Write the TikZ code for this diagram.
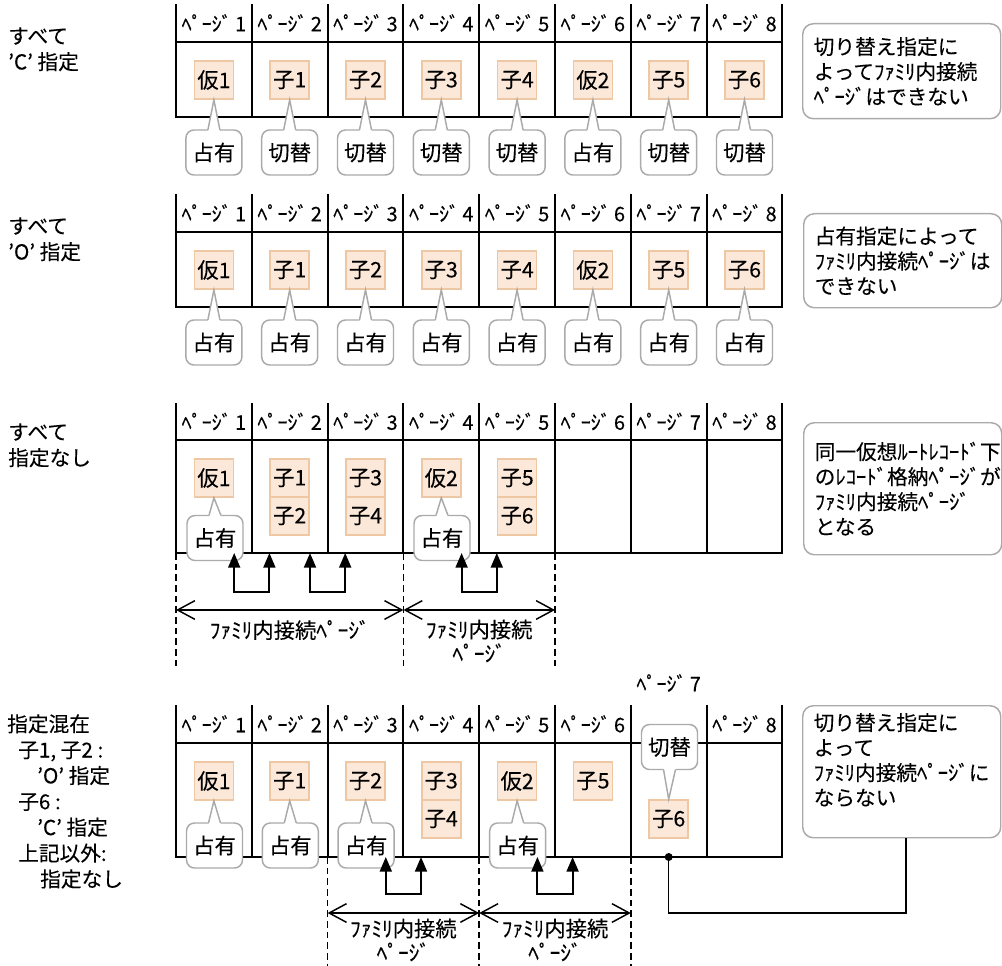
\documentclass[tikz,border=0pt]{standalone}
\usepackage{fontspec}
\setmainfont{Noto Sans CJK JP}[FakeBold=0.15]
\usetikzlibrary{arrows.meta,calc}
\definecolor{boxfill}{RGB}{251,232,216}
\definecolor{boxdraw}{RGB}{238,200,165}
\definecolor{callgray}{RGB}{170,170,170}
\newcommand\fsz{\fontsize{16pt}{19pt}\selectfont}
\tikzset{
  gridline/.style={line width=1.4pt},
  recbox/.style={draw=boxdraw, fill=boxfill, line width=1.2pt, minimum width=29.25pt, minimum height=28.5pt, inner sep=0pt, font=\fsz},
  callbox/.style={draw=callgray, fill=white, line width=1.1pt, rounded corners=6pt, minimum width=42pt, minimum height=33.75pt, inner sep=0pt, font=\fsz},
  notebox/.style={draw=callgray, fill=white, line width=1.1pt, rounded corners=8pt, anchor=north west, minimum width=148.5pt, inner xsep=8.25pt, text width=132pt, align=left, font=\fontsize{15.5pt}{18.75pt}\selectfont},
  hdr/.style={font=\fontsize{15pt}{16pt}\selectfont, inner sep=0pt},
  sidelabel/.style={font=\fontsize{15.5pt}{19.4pt}\selectfont, align=left, anchor=north west, inner sep=0pt},
  dimlabel/.style={font=\fontsize{16pt}{18pt}\selectfont, align=center, inner sep=0pt},
  dimline/.style={line width=1.1pt, {Straight Barb[length=13pt,width=14pt]}-{Straight Barb[length=13pt,width=14pt]}},
  dashline/.style={line width=1.1pt, dash pattern=on 5pt off 3pt},
  linkarrow/.style={line width=1.4pt, {Triangle[length=11pt,width=9pt]}-{Triangle[length=11pt,width=9pt]}},
  ptr/.style={draw=callgray, line width=1.1pt, line join=miter},
  conn/.style={line width=1.1pt},
}
% callout whose pointer leaves the top edge
\newcommand\mycallup[4]{%
  \node[callbox] (#1) at (#2) {#3};
  \fill[white] ($(#1.north)+(-6,0.7)$) -- (#4) -- ($(#1.north)+(6,0.7)$) -- ($(#1.north)+(6,2.6)$) -- ($(#1.north)+(-6,2.6)$) -- cycle;
  \draw[ptr] ($(#1.north)+(-6,0.7)$) -- (#4) -- ($(#1.north)+(6,0.7)$);
}
% callout whose pointer leaves the bottom edge
\newcommand\mycalldown[4]{%
  \node[callbox] (#1) at (#2) {#3};
  \fill[white] ($(#1.south)+(-6,-0.7)$) -- (#4) -- ($(#1.south)+(6,-0.7)$) -- ($(#1.south)+(6,-2.6)$) -- ($(#1.south)+(-6,-2.6)$) -- cycle;
  \draw[ptr] ($(#1.south)+(-6,-0.7)$) -- (#4) -- ($(#1.south)+(6,-0.7)$);
}
\newcommand\mypagegrid[3]{% top, header, bottom
  \draw[gridline] (176,#1) -- (176,#3) -- (782.4,#3) -- (782.4,#1);
  \foreach \k in {1,...,7} \draw[gridline] ({176+75.8*\k},#1) -- ({176+75.8*\k},#3);
  \draw[gridline] (176,#2) -- (782.4,#2);
}
\begin{document}
\begin{tikzpicture}[x=0.75pt,y=-0.75pt]
\useasboundingbox (0,0) rectangle (1002,966);
\clip (0,0) rectangle (1002,966);

% ===== Section 1 =====
\node[sidelabel] (lab1) at (8,27) {すべて\\'C' 指定};
\mypagegrid{4}{42}{117}
\foreach \k in {1,...,8} \node[hdr] (pa\k) at ({176+75.8*(\k-0.5)},23) {ﾍﾟｰｼﾞ\,\k};
\foreach \lab [count=\i] in {仮1,子1,子2,子3,子4,仮2,子5,子6}
  \node[recbox] (a\i) at ({176+75.8*(\i-0.5)},80) {\lab};
\foreach \t [count=\i] in {占有,切替,切替,切替,切替,占有,切替,切替}
  {\mycallup{ca\i}{{176+75.8*(\i-0.5)},152.5}{\t}{a\i.south}}
\node[notebox, minimum height=71.25pt] (n1) at (802,23) {切り替え指定に\\よってﾌｧﾐﾘ内接続\\ﾍﾟｰｼﾞはできない};

% ===== Section 2 =====
\node[sidelabel] (lab2) at (8,217) {すべて\\'O' 指定};
\mypagegrid{194}{232}{307}
\foreach \k in {1,...,8} \node[hdr] (pb\k) at ({176+75.8*(\k-0.5)},213) {ﾍﾟｰｼﾞ\,\k};
\foreach \lab [count=\i] in {仮1,子1,子2,子3,子4,仮2,子5,子6}
  \node[recbox] (b\i) at ({176+75.8*(\i-0.5)},270) {\lab};
\foreach \i in {1,...,8}
  {\mycallup{cb\i}{{176+75.8*(\i-0.5)},342.5}{占有}{b\i.south}}
\node[notebox, minimum height=70.5pt] (n2) at (803,213) {占有指定によって\\ﾌｧﾐﾘ内接続ﾍﾟｰｼﾞは\\できない};

% ===== Section 3 =====
\node[sidelabel] (lab3) at (8,423) {すべて\\指定なし};
\mypagegrid{403}{440}{553}
\foreach \k in {1,...,8} \node[hdr] (pc\k) at ({176+75.8*(\k-0.5)},421.5) {ﾍﾟｰｼﾞ\,\k};
\node[recbox] (c1)  at (213.9,478) {仮1};
\node[recbox] (c2a) at (289.7,478) {子1};
\node[recbox] (c2b) at (289.7,516) {子2};
\node[recbox] (c3a) at (365.5,478) {子3};
\node[recbox] (c3b) at (365.5,516) {子4};
\node[recbox] (c4)  at (441.3,478) {仮2};
\node[recbox] (c5a) at (517.1,478) {子5};
\node[recbox] (c5b) at (517.1,516) {子6};
\mycallup{cc1}{215,538}{占有}{c1.south}
\mycallup{cc4}{442,538}{占有}{c4.south}
\coordinate (bot3) at (0,553);
\draw[linkarrow] (c1.east |- bot3) -- ++(0,39) -| (c2a.west |- bot3);
\draw[linkarrow] (c2a.east |- bot3) -- ++(0,39) -| (c3a.west |- bot3);
\draw[linkarrow] (c4.east |- bot3) -- ++(0,39) -| (c5a.west |- bot3);
\coordinate (d31) at (176,553);
\coordinate (d32) at (403.4,553);
\coordinate (d33) at (555,553);
\foreach \d in {d31,d32,d33} \draw[dashline] (\d) -- ++(0,114);
\coordinate (m31) at (176,610);
\coordinate (m32) at (403.4,610);
\coordinate (m33) at (555,610);
\draw[dimline] (m31) -- (m32);
\draw[dimline] (m32) -- (m33);
\node[dimlabel] (f31) at (289.7,630) {ﾌｧﾐﾘ内接続ﾍﾟｰｼﾞ};
\node[dimlabel] (f32) at (479.2,641) {ﾌｧﾐﾘ内接続\\ﾍﾟｰｼﾞ};
\node[notebox, minimum height=99pt] (n3) at (803,422) {同一仮想ﾙｰﾄﾚｺｰﾄﾞ下\\のﾚｺｰﾄﾞ格納ﾍﾟｰｼﾞが\\ﾌｧﾐﾘ内接続ﾍﾟｰｼﾞ\\となる};

% ===== Section 4 =====
\node[sidelabel] (lab4) at (7,714) {指定混在\\\hspace*{8.25pt}子1, 子2 :\\\hspace*{22.5pt}'O' 指定\\\hspace*{8.25pt}子6 :\\\hspace*{22.5pt}'C' 指定\\\hspace*{8.25pt}上記以外:\\\hspace*{24.75pt}指定なし};
\mypagegrid{705}{743}{857}
\foreach \k in {1,...,6,8} \node[hdr] (pd\k) at ({176+75.8*(\k-0.5)},724) {ﾍﾟｰｼﾞ\,\k};
\node[hdr] (pd7) at (668.7,683) {ﾍﾟｰｼﾞ\,7};
\node[recbox] (e1)  at (213.9,781) {仮1};
\node[recbox] (e2)  at (289.7,781) {子1};
\node[recbox] (e3)  at (365.5,781) {子2};
\node[recbox] (e4a) at (441.3,781) {子3};
\node[recbox] (e4b) at (441.3,819) {子4};
\node[recbox] (e5)  at (517.1,781) {仮2};
\node[recbox] (e6)  at (592.9,781) {子5};
\node[recbox] (e7)  at (668.7,819) {子6};
\mycallup{ce1}{214.5,845.5}{占有}{e1.south}
\mycallup{ce2}{290.3,845.5}{占有}{e2.south}
\mycallup{ce3}{366.1,845.5}{占有}{e3.south}
\mycallup{ce5}{517.7,845.5}{占有}{e5.south}
\mycalldown{ce7}{669.5,747}{切替}{e7.north}
\coordinate (bot4) at (0,857);
\draw[linkarrow] (e3.east |- bot4) -- ++(0,37) -| (e4a.west |- bot4);
\draw[linkarrow] (e5.east |- bot4) -- ++(0,37) -| (e6.west |- bot4);
\coordinate (d41) at (327.6,857);
\coordinate (d42) at (479.2,857);
\coordinate (d43) at (630.8,857);
\foreach \d in {d41,d42,d43} \draw[dashline] (\d) -- ++(0,112);
\coordinate (m41) at (327.6,913);
\coordinate (m42) at (479.2,913);
\coordinate (m43) at (630.8,913);
\draw[dimline] (m41) -- (m42);
\draw[dimline] (m42) -- (m43);
\node[dimlabel] (f41) at (403.4,940) {ﾌｧﾐﾘ内接続\\ﾍﾟｰｼﾞ};
\node[dimlabel] (f42) at (555,940) {ﾌｧﾐﾘ内接続\\ﾍﾟｰｼﾞ};
\node[notebox, minimum height=99pt] (n4) at (802,705) {切り替え指定に\\よって\\ﾌｧﾐﾘ内接続ﾍﾟｰｼﾞに\\ならない\\\mbox{}};
\node[circle, fill=black, inner sep=0pt, minimum size=6pt] (dot) at (668.7,857) {};
\coordinate (cj) at (906,913);
\draw[conn] (dot.center) |- (cj) -- (cj |- n4.south);
\end{tikzpicture}
\end{document}
